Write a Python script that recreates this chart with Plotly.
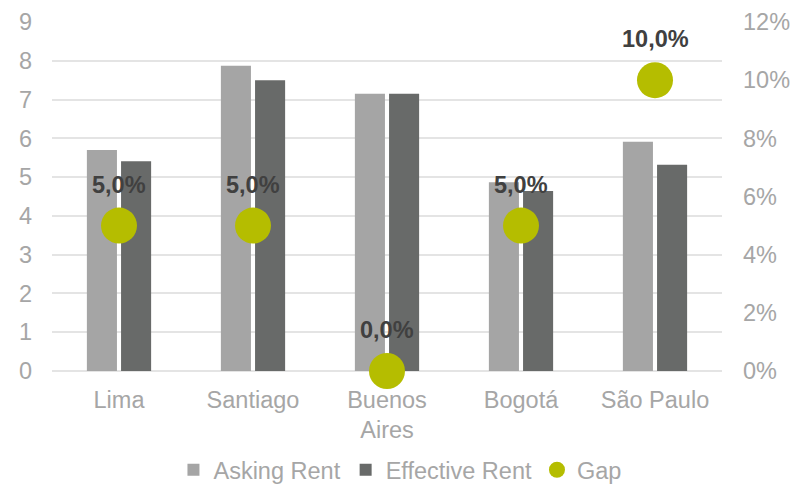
import plotly.graph_objects as go

# Office rents by city and the asking/effective gap
cities = ["Lima", "Santiago", "Buenos<br>Aires", "Bogotá", "São Paulo"]
asking_rent = [5.70, 7.87, 7.15, 4.87, 5.91]
effective_rent = [5.41, 7.50, 7.15, 4.64, 5.32]
gap = [0.05, 0.05, 0.0, 0.05, 0.10]

left_ticks = list(range(0, 10))
right_ticks = [0, 0.02, 0.04, 0.06, 0.08, 0.10, 0.12]

FONT = "Liberation Sans, Arial, sans-serif"
TICK_COLOR = "#a6a6a6"
GRID_COLOR = "#e4e4e4"
FS = 23.5

fig = go.Figure()
fig.add_trace(go.Bar(
    x=cities, y=asking_rent, name="Asking Rent",
    marker=dict(color="#a5a5a5", line=dict(width=0)),
))
fig.add_trace(go.Bar(
    x=cities, y=effective_rent, name="Effective Rent",
    marker=dict(color="#686a69", line=dict(width=0)),
))
fig.add_trace(go.Scatter(
    x=cities, y=gap, name="Gap", yaxis="y2", mode="markers",
    marker=dict(color="#b5bd00", size=36, line=dict(width=0)),
    cliponaxis=False,
))

# value labels above the gap markers
for c, g in zip(cities, gap):
    fig.add_annotation(
        x=c, y=g, xref="x", yref="y2", yshift=41,
        text="<b>" + f"{g * 100:.1f}%".replace(".", ",") + "</b>",
        showarrow=False,
        font=dict(family=FONT, size=23.5, color="#404040"),
    )

fig.update_layout(
    width=792, height=488,
    margin=dict(l=52, r=70, t=22, b=117, autoexpand=False),
    paper_bgcolor="white", plot_bgcolor="white",
    barmode="group", bargap=0.49, bargroupgap=0.12,
    separators=",.",
    font=dict(family=FONT, size=FS, color=TICK_COLOR),
    showlegend=True,
    legend=dict(
        orientation="h", x=0.505, xanchor="center", xref="container",
        y=0.037, yanchor="middle", yref="container",
        font=dict(family=FONT, size=FS, color=TICK_COLOR),
        itemwidth=30, tracegroupgap=0,
    ),
    xaxis=dict(
        showgrid=False, showline=False, zeroline=False,
        tickfont=dict(family=FONT, size=FS, color=TICK_COLOR),
        ticklabelstandoff=12,
    ),
    yaxis=dict(
        range=[0, 9], tickvals=left_ticks,
        showgrid=True, gridcolor=GRID_COLOR, gridwidth=1.5,
        zeroline=True, zerolinecolor=GRID_COLOR, zerolinewidth=1.5,
        showline=False,
        tickfont=dict(family=FONT, size=FS, color=TICK_COLOR),
        ticklabelstandoff=19,
    ),
    yaxis2=dict(
        range=[0, 0.12], tickvals=right_ticks, tickformat=".0%",
        overlaying="y", side="right",
        showgrid=False, zeroline=False, showline=False,
        tickfont=dict(family=FONT, size=FS, color=TICK_COLOR),
        ticklabelstandoff=20,
    ),
)

fig.write_html("out.html")
